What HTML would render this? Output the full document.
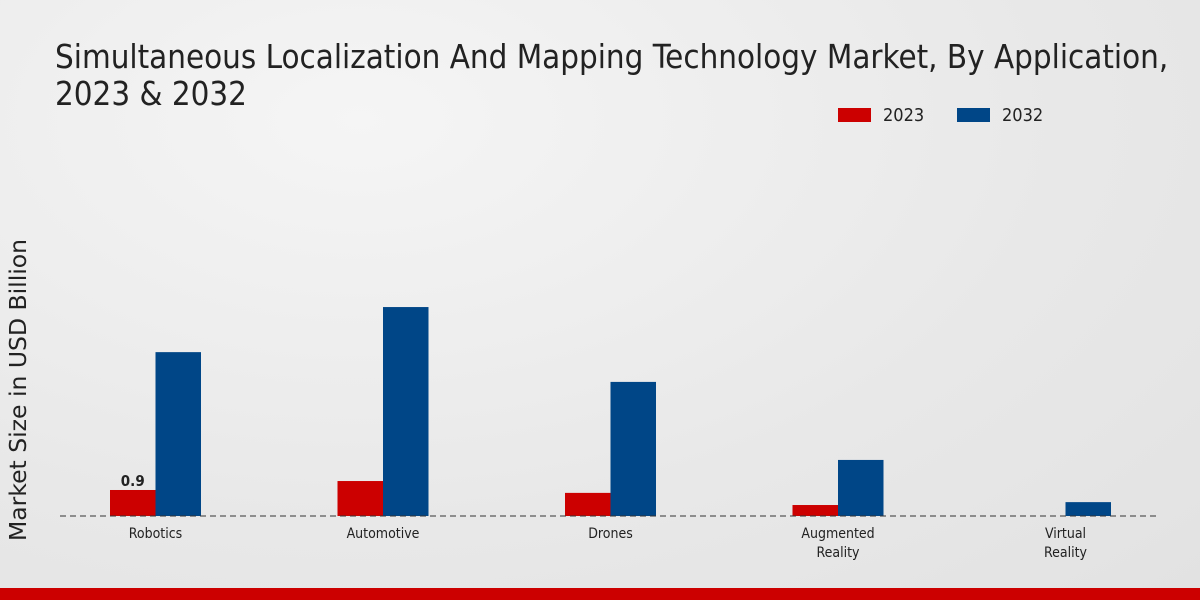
<!DOCTYPE html>
<html><head><meta charset="utf-8"><style>
body{margin:0;width:1200px;height:600px;overflow:hidden;font-family:"DejaVu Sans Condensed","DejaVu Sans","Liberation Sans",sans-serif;}
#root{position:relative;width:1200px;height:600px;background:radial-gradient(ellipse at 30% 20%,#f5f5f5 0%,#e8e8e8 60%,#e2e2e2 100%);}
.title{position:absolute;left:55px;top:38px;font-size:33px;line-height:37px;color:#222;font-stretch:condensed;white-space:nowrap;transform:scaleX(0.994);transform-origin:0 0;}
.bottom{position:absolute;left:0;top:588px;width:1200px;height:12px;background:#cc0000;}
</style></head><body>
<div id="root">
<div class="title">Simultaneous Localization And Mapping Technology Market, By Application,<br>2023 &amp; 2032</div>
<svg id="chart" width="1200" height="600" style="position:absolute;left:0;top:0"></svg>
<div class="bottom"></div>
</div>
<script>
const categories=["Robotics","Automotive","Drones","Augmented|Reality","Virtual|Reality"];
const values2023=[0.9,1.21,0.8,0.38,0.0];
const values2032=[5.67,7.23,4.64,1.94,0.48];
const seriesNames=["2023","2032"];
const colors=["#cc0000","#004687"];
const ns="http://www.w3.org/2000/svg";
const svg=document.getElementById('chart');
const baseY=516,pxPer=28.9,x0=155.5,step=227.5,bw=45.5;
const yS=v=>baseY-v*pxPer;
const xS=i=>x0+i*step;
function mk(t,a){const e=document.createElementNS(ns,t);for(const k in a)e.setAttribute(k,a[k]);svg.appendChild(e);return e;}
let yt=mk('text',{x:26,y:390,transform:'rotate(-90 26 390)','text-anchor':'middle','font-size':23.5,fill:'#222','font-family':'DejaVu Sans, sans-serif'});
yt.textContent='Market Size in USD Billion';


categories.forEach((c,i)=>{
  const cx=xS(i);
  const v1=values2023[i],v2=values2032[i];
  let r=mk('rect',{x:cx-bw,y:yS(v1),width:bw,height:v1*pxPer,fill:colors[0]});
  
  
  let b=mk('rect',{x:cx,y:yS(v2),width:bw,height:v2*pxPer,fill:colors[1]});
  
  
  c.split('|').forEach((ln,j)=>{
    let t=mk('text',{x:cx,y:538+j*19,'text-anchor':'middle','font-size':14,fill:'#222'});
    t.textContent=ln;
    
    
  });
});
let vl=mk('text',{x:xS(0)-bw/2,y:yS(values2023[0])-4,'text-anchor':'middle','font-size':15,'font-weight':'bold',fill:'#222'});
vl.textContent=values2023[0];


let ax=mk('line',{x1:60,x2:1160,y1:baseY,y2:baseY,stroke:'#333','stroke-dasharray':'6,4','stroke-width':1});


const lx=[838,957];
seriesNames.forEach((n,i)=>{
  let s=mk('rect',{x:lx[i],y:108,width:33,height:14,fill:colors[i]});
  
  
  let t=mk('text',{x:lx[i]+45,y:121,'font-size':18,fill:'#222'});
  t.textContent=n;
  
  
});
</script>
</body></html>
